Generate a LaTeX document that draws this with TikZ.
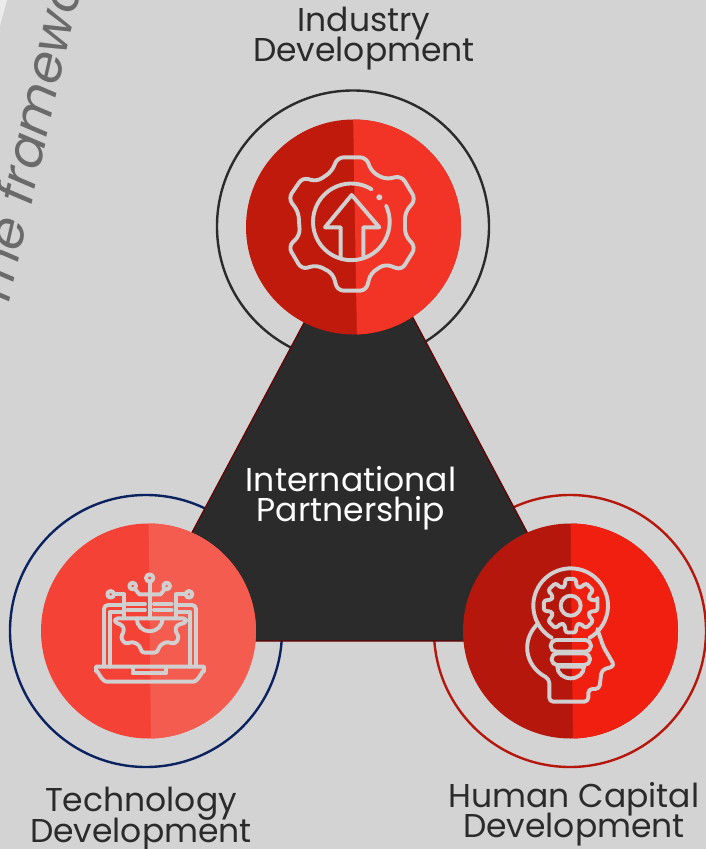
\documentclass[tikz,border=0pt]{standalone}
\usepackage{fontspec}
\setmainfont{Poppins}
\definecolor{bgc}{HTML}{D3D3D3}
\definecolor{ink}{HTML}{2B2B2B}
\definecolor{icon}{HTML}{D0D0D0}
\definecolor{topA}{HTML}{C01A0C}
\definecolor{topB}{HTML}{F23427}
\definecolor{leftA}{HTML}{F44336}
\definecolor{leftB}{HTML}{F55C50}
\definecolor{rightA}{HTML}{B5170D}
\definecolor{rightB}{HTML}{F01F10}
\definecolor{navy}{HTML}{0B2260}
\tikzset{
  disc/.style={circle,minimum size=215pt,inner sep=0pt,outer sep=0pt},
  ring/.style={circle,minimum size=272pt,inner sep=0pt,draw,line width=2.4pt},
  lab/.style={align=center,text=ink,font=\fontsize{33}{30}\selectfont,inner sep=0pt},
  ic/.style={draw=icon,line width=3.9pt,line join=round,line cap=round}
}
\begin{document}
\begin{tikzpicture}[x=1pt,y=-1pt]
\useasboundingbox (0,0) rectangle (706,849);
\clip (0,0) rectangle (706,849);
\fill[bgc] (0,0) rectangle (706,849);
\fill[white!55!bgc] (0,0) -- (7,0) -- (0,26) -- cycle;
\node[anchor=base west,rotate=77,text=black!50!bgc,font=\fontsize{51}{51}\selectfont\itshape,inner sep=0pt] (frame) at (7,311) {The framewo};
% rings
\node[ring,draw=ink] (ringT) at (353,226.5) {};
\node[ring,draw=navy] (ringL) at (146,631) {};
\node[ring,draw=rightA] (ringR) at (570,631) {};
% triangle
\fill[ink,draw=red!40!black,line width=1.2pt] (360,218) -- (585,641) -- (134,641) -- cycle;
\node[text=white,align=center,inner sep=0pt,font=\fontsize{33}{29}\selectfont] (centre) at (351,498) {International\\[1pt]Partnership};
% discs
\node[disc] (discT) at (353.5,227) {};
\node[disc] (discL) at (148.5,631) {};
\node[disc] (discR) at (570.5,631) {};
\begin{scope}\clip (353.5,227) circle (107.5);
\fill[topA] (240,110) rectangle (470,340);
\fill[topB] (353,110) -- (470,110) -- (470,340) -- (357,340) -- cycle;
\end{scope}
\begin{scope}\clip (148.5,631) circle (107.5);
\fill[leftA] (30,515) rectangle (260,745);
\fill[leftB] (148.5,515) -- (260,515) -- (260,745) -- (151,745) -- cycle;
\end{scope}
\begin{scope}\clip (570.5,631) circle (107.5);
\fill[rightA] (455,515) rectangle (690,745);
\fill[rightB] (570.5,515) -- (690,515) -- (690,745) -- (573,745) -- cycle;
\end{scope}
% top icon
\begin{scope}[shift={(270,140)},x=.3333pt,y=-.3333pt,ic]
\draw[rounded corners=6pt] (185,95) -- (203,52) -- (288,52) -- (305,95) -- (345,118) -- (395,108) -- (437,178) -- (405,218) -- (405,285) -- (437,322) -- (395,390) -- (345,372) -- (302,400) -- (288,452) -- (203,452) -- (188,400) -- (140,375) -- (95,388) -- (55,320) -- (90,285) -- (85,215) -- (55,175) -- (98,112) -- (140,125) -- cycle;
\draw (305,148) arc (-58:-385:115);
\fill[icon,draw=none] (328,172) circle (9);
\draw (212,350) -- (212,262) -- (165,262) -- (245,165) -- (328,262) -- (280,262) -- (280,350);
\end{scope}
% left icon
\begin{scope}[shift={(80,560)},x=.3333pt,y=-.3333pt,ic]
\draw (48,320) -- (372,320) -- (372,335) to[out=90,in=0] (340,365) -- (80,365) to[out=180,in=90] (48,335) -- cycle;
\draw (158,322) -- (158,340) -- (258,340) -- (258,322);
\draw[rounded corners=4pt] (72,320) -- (72,135) -- (125,135);
\draw (90,320) -- (90,155) -- (125,155);
\draw[rounded corners=4pt] (348,320) -- (348,135) -- (295,135);
\draw (330,320) -- (330,155) -- (295,155);
\draw (92,103) circle (10);
\draw (327,103) circle (10);
\draw (209,54) circle (11);
\draw (158,78) circle (10);
\draw (260,78) circle (10);
\draw (102,103) -- (132,103) -- (132,175);
\draw (317,103) -- (288,103) -- (288,175);
\draw (209,65) -- (209,175);
\draw (165,87) -- (178,103) -- (242,103) -- (254,87);
\draw (142,132) -- (195,132) (142,150) -- (195,150) (222,132) -- (275,132) (222,150) -- (275,150);
\draw[rounded corners=3pt] (105,175) -- (105,188) -- (128,195) -- (133,212) -- (122,232) -- (135,252) -- (160,245) -- (180,258) -- (185,278) -- (232,278) -- (238,258) -- (258,245) -- (285,252) -- (298,232) -- (285,212) -- (290,195) -- (318,188) -- (318,175) -- cycle;
\draw (170,175) arc (180:360:39 and -39);
\end{scope}
% right icon
\begin{scope}[shift={(510,555)},x=.3333pt,y=-.3333pt,ic]
\draw (182,152) ++(120:112) arc (120:420:112);
\begin{scope}[shift={(182,152)}]
\draw[rounded corners=2.5pt] (-11:82) \foreach \k in {0,45,...,315}{ -- (\k-11:82) -- (\k+11:82) -- (\k+17:60) -- (\k+28:60)} -- cycle;
\draw (0,0) circle (30);
\end{scope}
\draw[rounded corners=5.5pt] (122,255) rectangle (243,290);
\draw[rounded corners=5.5pt] (125,295) rectangle (240,330);
\draw (142,335) -- (222,335) .. controls (222,355) and (205,370) .. (182,370) .. controls (160,370) and (142,355) .. (142,335) -- cycle;
\draw[rounded corners=4pt] (85,205) .. controls (35,250) and (40,330) .. (118,372) -- (118,440) -- (235,440) -- (235,402) -- (268,402) -- (275,345) -- (314,333) -- (280,275) -- (262,222);
\end{scope}
% labels
\node[lab] (lT) at (364,38.5) {Industry\\[-3.5pt]Development};
\node[lab] (lL) at (141,819) {Technology\\[-3.5pt]Development};
\node[lab] (lR) at (574,814) {Human Capital\\[-3.5pt]Development};
\end{tikzpicture}
\end{document}
